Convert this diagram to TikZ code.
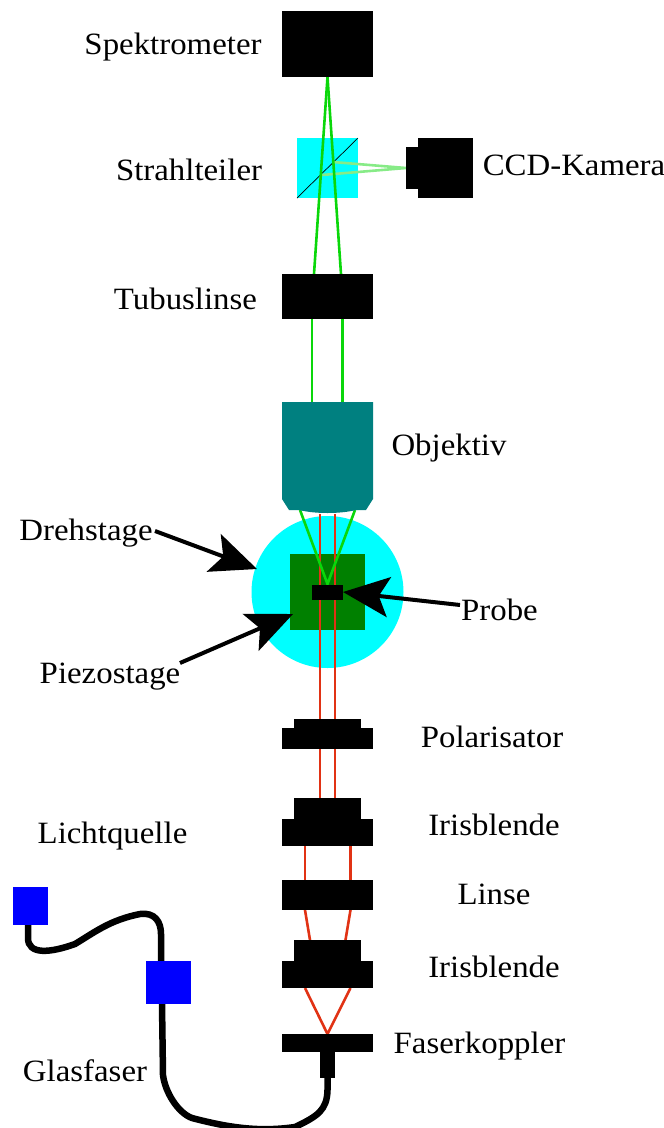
\documentclass[tikz,border=0pt]{standalone}
\usepackage{fontspec}
\setmainfont[FakeStretch=1.06]{Liberation Serif}
\usetikzlibrary{arrows.meta}
\definecolor{beamgreen}{RGB}{10,215,10}
\definecolor{beamlight}{RGB}{135,235,135}
\definecolor{beamred}{RGB}{225,50,20}
\definecolor{objteal}{RGB}{0,128,128}
\definecolor{stagegreen}{RGB}{0,128,0}
\definecolor{purecyan}{RGB}{0,255,255}
\definecolor{pureblue}{RGB}{0,0,255}
\tikzset{
  x=1pt,y=-1pt,
  part/.style={fill=black,draw=none},
  lab/.style={font=\fontsize{31}{34}\selectfont,inner sep=0pt,text height=26pt,text depth=6pt},
  red beam/.style={draw=beamred,line width=2.6pt},
  green beam/.style={draw=beamgreen,line width=2.6pt},
  light beam/.style={draw=beamlight,line width=2.6pt},
  fibre/.style={draw=black,line width=6.5pt,line cap=round},
  pointer/.style={draw=black,line width=4pt,-{Stealth[length=46pt,width=40pt,inset=10pt]}},
}
\begin{document}
\begin{tikzpicture}
\useasboundingbox (0,0) rectangle (664,1128);
\path[clip] (0,0) rectangle (664,1128);
% stages
\fill[purecyan] (327.5,592) circle[radius=76];
\fill[stagegreen] (290,554) rectangle (365,630);
% anchors
\coordinate (spekIn) at (327.5,77);
\coordinate (tubusL) at (314,274);
\coordinate (tubusR) at (341,274);
\coordinate (focus) at (327.5,584);
\coordinate (ccdIn) at (406,168);
% red beams
\draw[red beam] (320,514) -- (320,798);
\draw[red beam] (335,514) -- (335,798);
\draw[red beam] (305,846) -- (305,880);
\draw[red beam] (350.5,846) -- (350.5,880);
\draw[red beam] (305,910) -- (310,940);
\draw[red beam] (350.5,910) -- (345.5,940);
\draw[red beam] (305,988) -- (327.5,1034) -- (350.5,988);
% cube
\fill[purecyan] (297,138) rectangle (358,198);
\draw[black,line width=0.7pt] (297,198) -- (358,138);
% green beams
\draw[light beam] (333,162) -- (ccdIn) -- (322,175);
\draw[green beam] (spekIn) -- (tubusL);
\draw[green beam] (spekIn) -- (tubusR);
\draw[green beam] (312,319) -- (312,402);
\draw[green beam] (342.5,319) -- (342.5,402);
\draw[green beam] (300,510) -- (focus) -- (355,510);
% optical parts
\fill[part] (282,11) rectangle (373,77);
\fill[part] (406,147) rectangle (419,189);
\fill[part] (418,138) rectangle (473,198);
\fill[part] (282,274) rectangle (373,319);
\fill[objteal] (282,402) -- (373,402) -- (373,499) -- (366,510) -- (356,510)
  .. controls (340,514) and (315,514) .. (299,510) -- (289,510) -- (282,499) -- cycle;
\fill[part] (312,585) rectangle (342.5,600);
\fill[part] (294,719) rectangle (361,730);
\fill[part] (282,728) rectangle (373,749);
\fill[part] (294,798) rectangle (361,821);
\fill[part] (282,819) rectangle (373,846);
\fill[part] (282,880) rectangle (373,910);
\fill[part] (294,940) rectangle (361,963);
\fill[part] (282,961) rectangle (373,988);
\fill[part] (282,1034) rectangle (373,1052);
\fill[part] (320,1052) rectangle (335,1078);
% fibres
\coordinate (fibA) at (28,925);
\coordinate (fibB) at (161,963);
\coordinate (fibC) at (162,1004);
\coordinate (fibD) at (327.5,1078);
\draw[fibre] (fibA) -- (28,938) .. controls (28,955) and (50,953) .. (75,944)
  .. controls (95,932) and (110,920) .. (140,914)
  .. controls (155,912) and (161,922) .. (161,934) -- (fibB);
\draw[fibre] (fibC) -- (163,1075) .. controls (165,1092) and (178,1113) .. (192,1118)
  .. controls (230,1128) and (260,1132) .. (295,1127)
  .. controls (318,1116) and (327,1110) .. (327.5,1090) -- (fibD);
\fill[pureblue] (12.5,887) rectangle (47.5,925);
\fill[pureblue] (146,961) rectangle (191,1004);
% labels
\node[lab] (spek) at (173,44) {Spektrometer};
\node[lab] (strahl) at (189,170) {Strahlteiler};
\node[lab] (ccd) at (574,165) {CCD-Kamera};
\node[lab] (tubus) at (185.5,299) {Tubuslinse};
\node[lab] (obj) at (449,445) {Objektiv};
\node[lab] (dreh) at (86,530) {Drehstage};
\node[lab] (probe) at (499.5,610) {Probe};
\node[lab] (piezo) at (110,673) {Piezostage};
\node[lab] (pol) at (492,737) {Polarisator};
\node[lab] (irisA) at (494,825) {Irisblende};
\node[lab] (licht) at (112.5,833) {Lichtquelle};
\node[lab] (linse) at (494,894) {Linse};
\node[lab] (irisB) at (494,967) {Irisblende};
\node[lab] (faser) at (479.5,1043) {Faserkoppler};
\node[lab] (glas) at (85,1071) {Glasfaser};
% pointers
\coordinate (drehTip) at (257,569);
\coordinate (probeTip) at (343,592);
\coordinate (piezoTip) at (293,614);
\draw[pointer] (155,531) -- (drehTip);
\draw[pointer] (460,605) -- (probeTip);
\draw[pointer] (180,663) -- (piezoTip);
\end{tikzpicture}
\end{document}
